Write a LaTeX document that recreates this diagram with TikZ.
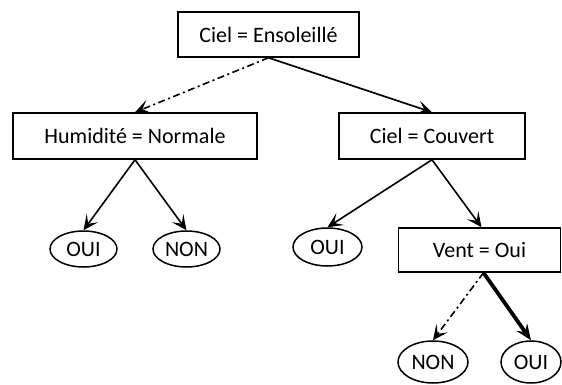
\documentclass[tikz,border=0pt]{standalone}
\usepackage{fontspec}
\setmainfont{Carlito}
\usetikzlibrary{arrows.meta,shapes.geometric}
\begin{document}
\begin{tikzpicture}[x=1pt,y=-1pt,
  font=\fontsize{22}{26}\selectfont,
  test/.style={draw,line width=1.5pt,rectangle,inner sep=0pt},
  leaf/.style={draw,line width=1.5pt,ellipse,inner sep=0pt},
  edge/.style={line width=1.6pt,-{Stealth[length=15pt,width=14pt,inset=7pt]}},
  weak/.style={edge,dash pattern=on 7pt off 3.5pt on 2pt off 3.5pt},
  strong/.style={line width=3.8pt,-{Stealth[length=16pt,width=13pt,inset=6pt]}}]
\useasboundingbox (0,0) rectangle (562,385);

% decision tests
\node[test,minimum width=181pt,minimum height=45pt] (root) at (268.5,34.5) {Ciel = Ensoleillé};
\node[test,minimum width=244pt,minimum height=46pt] (hum) at (135,136) {Humidité = Normale};
\node[test,minimum width=186pt,minimum height=46pt] (couv) at (432,136) {Ciel = Couvert};
\node[test,minimum width=162pt,minimum height=44pt] (vent) at (479.5,250) {Vent = Oui};

% leaves
\node[leaf,minimum width=67pt,minimum height=36pt] (oui1) at (83.5,249) {OUI};
\node[leaf,minimum width=67pt,minimum height=36pt] (non1) at (186.5,249) {NON};
\node[leaf,minimum width=69pt,minimum height=38pt] (oui2) at (327.5,247) {OUI};
\node[leaf,minimum width=70pt,minimum height=42pt] (non2) at (433,362) {NON};
\node[leaf,minimum width=60pt,minimum height=42pt] (oui3) at (531,362) {OUI};

% branches
\coordinate (r0) at (root.south);
\draw[weak] (r0) -- (hum.north);
\draw[edge] (r0) -- (couv.north);

\draw[edge] (hum.south) -- (oui1.north);
\draw[edge] (hum.south) -- (non1.north);

\draw[edge] (couv.south) -- (oui2.north);
\draw[edge] (couv.south) -- ([xshift=2pt]vent.north);

\coordinate (v0) at ([xshift=4pt]vent.south);
\draw[weak] (v0) -- (non2.north);
\draw[strong] (v0) -- (oui3.north);
\end{tikzpicture}
\end{document}
